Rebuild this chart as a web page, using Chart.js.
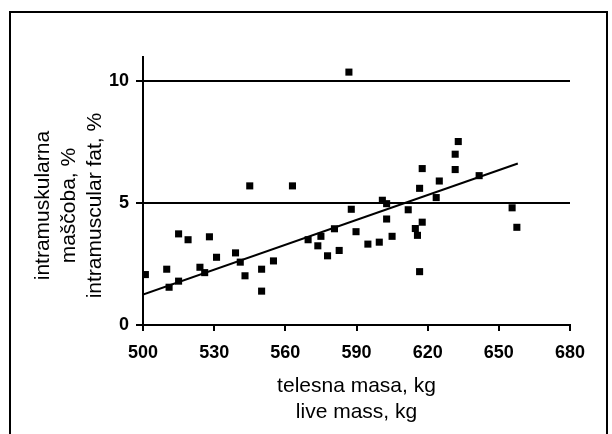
<!DOCTYPE html>
<html>
<head>
<meta charset="utf-8">
<script src="https://cdn.jsdelivr.net/npm/chart.js@4/dist/chart.umd.min.js"></script>
<style>
  body { margin: 0; width: 612px; height: 434px; overflow: hidden; background: #fff; position: relative; }
  #okvir { position: absolute; left: 9px; top: 11px; width: 595px; height: 440px; border: 2px solid #000; }
  #grafikon { position: absolute; left: 0; top: 0; }
</style>
</head>
<body>
<div id="okvir"></div>
<canvas id="grafikon" width="612" height="434"></canvas>
<script>
// telesna masa (kg) in intramuskularna mascoba (%)
var masa = [501, 510, 511, 515, 515, 519, 524, 526, 528, 531, 539, 541, 543, 545, 550, 550,
            555, 563, 569.6, 573.7, 575, 577.8, 580.7, 582.7, 586.8, 587.8, 589.8, 594.8, 599.6, 600.9,
            602.7, 602.7, 605, 611.8, 614.8, 615.7, 616.6, 616.6, 617.7, 617.7, 623.6, 624.9,
            631.6, 631.6, 632.9, 641.7, 655.6, 657.6];
var mascoba = [2.07, 2.29, 1.55, 3.74, 1.80, 3.50, 2.37, 2.15, 3.62, 2.78, 2.96, 2.58, 2.02, 5.71, 2.29, 1.39,
               2.63, 5.71, 3.50, 3.25, 3.64, 2.84, 3.95, 3.06, 10.38, 4.75, 3.83, 3.32, 3.40, 5.12,
               4.98, 4.35, 3.64, 4.73, 3.96, 3.68, 5.61, 2.19, 4.22, 6.42, 5.23, 5.91,
               6.38, 7.01, 7.53, 6.13, 4.81, 4.01];
var trendMasa = [500, 658];
var trendMascoba = [1.25, 6.63];
var xTicks = [500, 530, 560, 590, 620, 650, 680];
var yTicks = [0, 5, 10];

var pisava = "Arial, 'Liberation Sans', sans-serif";

function tocke(xs, ys) {
  var out = [];
  for (var i = 0; i < xs.length; i++) out.push({ x: xs[i], y: ys[i] });
  return out;
}

function graficar() {
  var ctx = document.getElementById('grafikon').getContext('2d');
  new Chart(ctx, {
    type: 'scatter',
    data: {
      datasets: [
        {
          label: 'meritve',
          data: tocke(masa, mascoba),
          pointStyle: 'rect',
          pointRadius: 5,
          backgroundColor: '#000',
          borderColor: '#000',
          borderWidth: 0
        },
        {
          label: 'trend',
          data: tocke(trendMasa, trendMascoba),
          showLine: true,
          pointRadius: 0,
          borderColor: '#000',
          borderWidth: 2
        }
      ]
    },
    options: {
      responsive: false,
      animation: false,
      layout: { padding: { left: 0, top: 57, right: 42, bottom: 0 } },
      plugins: { legend: { display: false }, tooltip: { enabled: false } },
      scales: {
        x: {
          type: 'linear',
          min: 500,
          max: 680,
          afterBuildTicks: function (scale) { scale.ticks = xTicks.map(function (v) { return { value: v }; }); },
          afterFit: function (scale) { scale.height = 109; },
          ticks: { color: '#000', font: { family: pisava, size: 18, weight: 'bold' }, padding: 11, maxRotation: 0 },
          grid: { drawOnChartArea: false, drawTicks: true, tickLength: 6, color: '#000', lineWidth: 2 },
          border: { display: true, color: '#000', width: 2 },
          title: {
            display: true,
            text: ['telesna masa, kg', 'live mass, kg'],
            color: '#000',
            font: { family: pisava, size: 21, lineHeight: 1.24 },
            padding: { top: 0, bottom: 9 }
          }
        },
        y: {
          min: 0,
          max: 11,
          afterBuildTicks: function (scale) { scale.ticks = yTicks.map(function (v) { return { value: v }; }); },
          afterFit: function (scale) { scale.width = 143; },
          ticks: { color: '#000', font: { family: pisava, size: 18, weight: 'bold' }, padding: 7 },
          grid: { drawTicks: true, tickLength: 7, color: '#000', lineWidth: 2 },
          border: { display: true, color: '#000', width: 2 },
          title: {
            display: true,
            // presledki na koncu zamaknejo napis navzdol kot v originalu
            text: ['intramuskularna     ', 'maščoba, %     ', 'intramuscular fat, %     '],
            color: '#000',
            font: { family: pisava, size: 21, lineHeight: 1.24 },
            padding: { top: 30, bottom: 0 }
          }
        }
      }
    }
  });
}

graficar();
</script>
</body>
</html>
